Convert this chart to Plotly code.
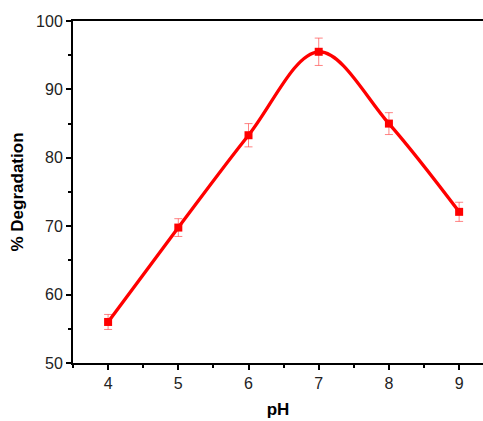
import plotly.graph_objects as go

ph = [4, 5, 6, 7, 8, 9]
degradation = [56.0, 69.8, 83.3, 95.5, 85.0, 72.1]
errors = [1.1, 1.3, 1.7, 2.0, 1.6, 1.4]

fig = go.Figure()
fig.add_trace(go.Scatter(
    x=ph, y=degradation, mode="lines+markers",
    line=dict(color="#ff0000", width=3.3, shape="spline", smoothing=1.0),
    marker=dict(symbol="square", size=8, color="#ff0000"),
    error_y=dict(type="data", array=errors, visible=True,
                 color="rgba(255,80,80,0.7)", thickness=1, width=4),
    showlegend=False,
))

font = "Liberation Sans, Arial, sans-serif"
fig.update_layout(
    width=483, height=421,
    margin=dict(l=73, r=0, t=21, b=58),
    plot_bgcolor="white", paper_bgcolor="white",
    font=dict(family=font, size=16, color="#222"),
    xaxis=dict(range=[3.5, 9.34], tickvals=[4, 5, 6, 7, 8, 9],
               ticks="outside", ticklen=5, tickwidth=2, tickcolor="black",
               showline=True, linecolor="black", linewidth=2, mirror=True,
               showgrid=False, zeroline=False,
               minor=dict(tickvals=[3.5, 4.5, 5.5, 6.5, 7.5, 8.5], ticks="outside", ticklen=3, tickwidth=2, tickcolor="black"),
               title=dict(text="<b>pH</b>", font=dict(size=17, color="black"), standoff=12)),
    yaxis=dict(range=[50, 100], tickvals=[50, 60, 70, 80, 90, 100],
               ticks="outside", ticklen=5, tickwidth=2, tickcolor="black",
               showline=True, linecolor="black", linewidth=2,
               showgrid=False, zeroline=False,
               minor=dict(tickvals=[55, 65, 75, 85, 95], ticks="outside", ticklen=3, tickwidth=2, tickcolor="black"),
               title=dict(text="<b>% Degradation</b>", font=dict(size=17, color="black"), standoff=8)),
)

fig.write_html("out.html")
